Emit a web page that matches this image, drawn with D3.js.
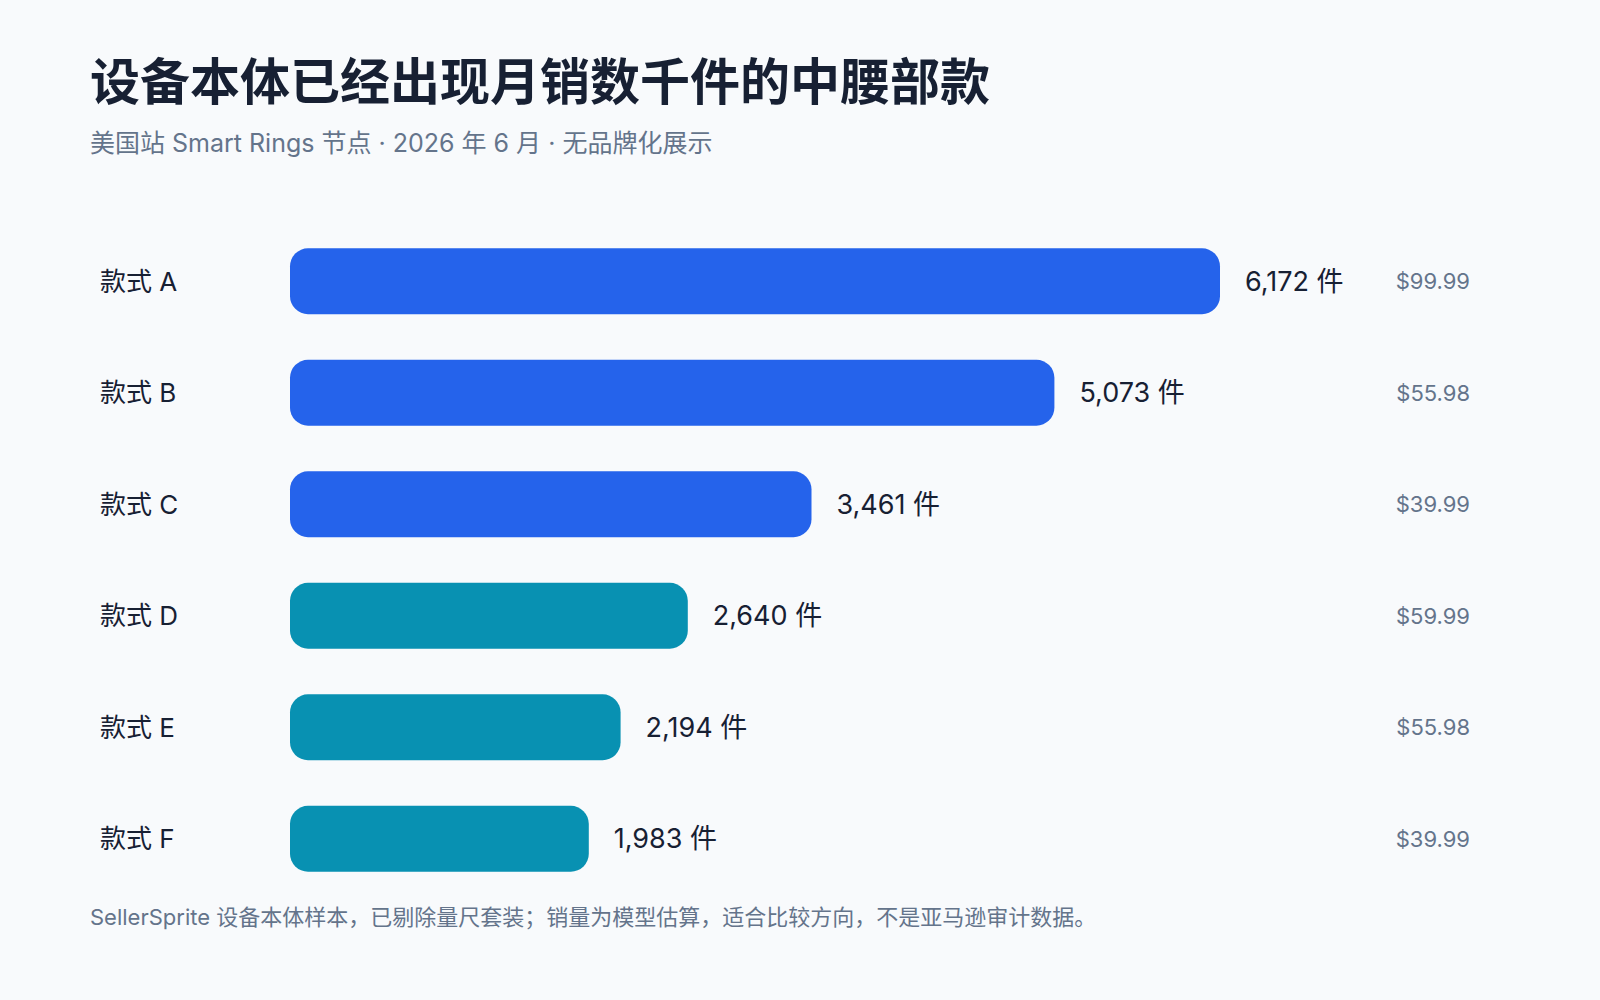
<!DOCTYPE html>
<html>
<head>
<meta charset="utf-8">
<script src="https://cdn.jsdelivr.net/npm/d3@7"></script>
<style>
body { margin: 0; background: #f8fafc; }
text { font-family: Inter, "Noto Sans CJK SC", sans-serif; }
</style>
</head>
<body>
<svg id="chart" width="1600" height="1000"></svg>
<script>
// data
var names = ["款式 A", "款式 B", "款式 C", "款式 D", "款式 E", "款式 F"];
var sales = [6172, 5073, 3461, 2640, 2194, 1983];
var prices = ["$99.99", "$55.98", "$39.99", "$59.99", "$55.98", "$39.99"];
var groups = ["top", "top", "top", "mid", "mid", "mid"];

var svg = d3.select("#chart");
svg.append("rect").attr("width", 1600).attr("height", 1000).attr("fill", "#f8fafc");

svg.append("text").attr("x", 90).attr("y", 100)
	.text("设备本体已经出现月销数千件的中腰部款")
	.style("font-size", "50px").style("font-weight", "bold").attr("fill", "#172033");
svg.append("text").attr("x", 90).attr("y", 152)
	.text("美国站 Smart Rings 节点 · 2026 年 6 月 · 无品牌化展示")
	.style("font-size", "25px").attr("fill", "#64748b");

var x = d3.scaleLinear().domain([0, 6172]).range([290, 1220]);
var y = d3.scaleBand().domain(names).range([245, 875]).paddingInner(0.41).paddingOuter(0.03);
var color = d3.scaleOrdinal().domain(["top", "mid"]).range(["#2563eb", "#0891b2"]);

var row = svg.selectAll("g.row").data(names).enter().append("g").attr("class", "row");

row.append("rect")
	.attr("x", x(0))
	.attr("y", function(d) { return y(d); })
	.attr("width", function(d, i) { return x(sales[i]) - x(0); })
	.attr("height", y.bandwidth())
	.attr("rx", 18)
	.attr("fill", function(d, i) { return color(groups[i]); });

row.append("text")
	.attr("x", 100)
	.attr("y", function(d) { return y(d) + y.bandwidth() / 2; })
	.attr("dominant-baseline", "central")
	.text(function(d) { return d; })
	.style("font-size", "26px").attr("fill", "#172033");

row.append("text")
	.attr("x", function(d, i) { return x(sales[i]) + 25; })
	.attr("y", function(d) { return y(d) + y.bandwidth() / 2; })
	.attr("dominant-baseline", "central")
	.text(function(d, i) { return d3.format(",")(sales[i]) + " 件"; })
	.style("font-size", "27px").attr("fill", "#172033");

row.append("text")
	.attr("x", 1470)
	.attr("y", function(d) { return y(d) + y.bandwidth() / 2; })
	.attr("dominant-baseline", "central")
	.attr("text-anchor", "end")
	.text(function(d, i) { return prices[i]; })
	.style("font-size", "22px").attr("fill", "#64748b");

svg.append("text").attr("x", 90).attr("y", 925)
	.text("SellerSprite 设备本体样本，已剔除量尺套装；销量为模型估算，适合比较方向，不是亚马逊审计数据。")
	.style("font-size", "22px").attr("fill", "#64748b");
</script>
</body>
</html>
